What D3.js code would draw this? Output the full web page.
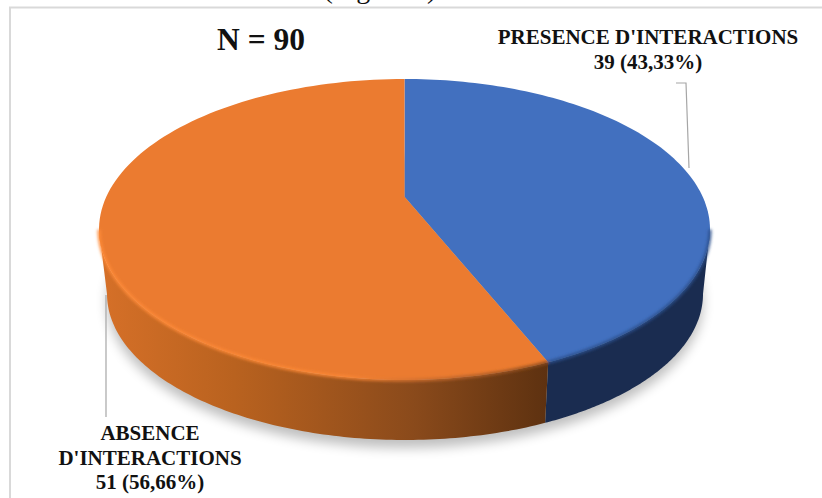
<!DOCTYPE html>
<html>
<head>
<meta charset="utf-8">
<script src="https://cdn.jsdelivr.net/npm/d3@7"></script>
<style>
html,body{margin:0;padding:0;background:#fff;}
svg{display:block;}
text{font-family:"Liberation Serif",serif;fill:#111;}
</style>
</head>
<body>
<div id="chart"></div>
<script>
const categories = ["PRESENCE D'INTERACTIONS", "ABSENCE D'INTERACTIONS"];
const values = [39, 51];
const topColors = ["#4270bf", "#eb7b30"];
const labelLines = [
  ["PRESENCE D'INTERACTIONS", "39 (43,33%)"],
  ["ABSENCE", "D'INTERACTIONS", "51 (56,66%)"]
];
const totalLabel = "N = 90";
const captionLabel = "(Figure 2)";

const w = 822, h = 498;
const svg = d3.select("#chart").append("svg").attr("width", w).attr("height", h);
const defs = svg.append("defs");

// tilted disc: k shifts the rim angles, apexK puts the apex above the ellipse middle
const k = -0.16, apexK = -0.217;
function project(a) {
  const u = Math.sin(a), v = -Math.cos(a);
  return [u * Math.sqrt(1 - k * k) / (1 + k * v), (v + k) / (1 + k * v)];
}
const xTop = d3.scaleLinear().domain([-1, 1]).range([99, 710]);
const yTop = d3.scaleLinear().domain([-1, 1]).range([79, 380]);
const xBot = d3.scaleLinear().domain([-1, 1]).range([107, 703]);
const yBot = d3.scaleLinear().domain([-1, 1]).range([148, 440]);
const pie = d3.pie().sort(null).value(d => d);
const slices = pie(values);
const line = d3.line();

function rim(s, xs, ys, from, to) {
  const a0 = Math.max(s.startAngle, from), a1 = Math.min(s.endAngle, to);
  return d3.range(0, 121).map(i => {
    const p = project(a0 + (a1 - a0) * i / 120);
    return [xs(p[0]), ys(p[1])];
  });
}

// filters and gradients
const blur = defs.append("filter").attr("id", "shadow")
  .attr("x", "-10%").attr("y", "-10%").attr("width", "120%").attr("height", "120%");
blur.append("feGaussianBlur").attr("stdDeviation", 6);
const soft = defs.append("filter").attr("id", "soft")
  .attr("x", "-5%").attr("y", "-5%").attr("width", "110%").attr("height", "110%");
soft.append("feGaussianBlur").attr("stdDeviation", 1.6);

const gradOrange = defs.append("linearGradient").attr("id", "sideOrange")
  .attr("gradientUnits", "userSpaceOnUse")
  .attr("x1", 99).attr("x2", 549).attr("y1", 0).attr("y2", 0);
gradOrange.append("stop").attr("offset", 0).attr("stop-color", "#d67028");
gradOrange.append("stop").attr("offset", 0.3).attr("stop-color", "#b9621f");
gradOrange.append("stop").attr("offset", 0.7).attr("stop-color", "#8a4a1b");
gradOrange.append("stop").attr("offset", 1).attr("stop-color", "#5d3110");
const sideFill = ["#1a2c50", "url(#sideOrange)"];

const gradBevel = defs.append("linearGradient").attr("id", "bevelOrange")
  .attr("gradientUnits", "userSpaceOnUse")
  .attr("x1", 99).attr("x2", 549).attr("y1", 0).attr("y2", 0);
gradBevel.append("stop").attr("offset", 0).attr("stop-color", "#ff8b38");
gradBevel.append("stop").attr("offset", 0.55).attr("stop-color", "#fb8735");
gradBevel.append("stop").attr("offset", 0.8).attr("stop-color", "#b8622a");
gradBevel.append("stop").attr("offset", 1).attr("stop-color", "#86481a");
const bevelStroke = ["#2c4f8c", "url(#bevelOrange)"];

// frame
svg.append("path").attr("d", "M10," + (h + 2) + "V7.5H" + (w + 2))
  .attr("fill", "none").attr("stroke", "#d9d9d9").attr("stroke-width", 2);

// caption cut by the top of the picture
svg.append("text").attr("x", 380).attr("y", -2).attr("text-anchor", "middle")
  .attr("font-size", 28).text(captionLabel);

// ground shadow
const whole = {startAngle: 0, endAngle: 2 * Math.PI};
svg.append("path").attr("d", line(rim(whole, xBot, d3.scaleLinear().domain(yBot.domain()).range(yBot.range().map(d => d + 8)), 0, 7)) + "Z")
  .attr("fill", "#000").attr("opacity", 0.25).attr("filter", "url(#shadow)");

// side wall, front part only (from the widest point round the bottom)
const frontFrom = Math.acos(k), frontTo = 2 * Math.PI - Math.acos(k);
svg.selectAll("path.side").data(slices).join("path").attr("class", "side")
  .attr("d", s => {
    const a = rim(s, xTop, yTop, frontFrom, frontTo);
    const b = rim(s, xBot, yBot, frontFrom, frontTo).reverse();
    return line(a.concat(b)) + "Z";
  })
  .attr("fill", (s, i) => sideFill[i]);

// top face
const apex = [xTop(0), yTop(apexK)];
svg.selectAll("path.top").data(slices).join("path").attr("class", "top")
  .attr("d", s => line([apex].concat(rim(s, xTop, yTop, 0, 7))) + "Z")
  .attr("fill", (s, i) => topColors[i]);

// bevel along the front edge of the top face
const bevel = svg.append("g").attr("filter", "url(#soft)");
bevel.selectAll("path").data(slices).join("path")
  .attr("d", s => line(rim(s, xTop, yTop, frontFrom, frontTo)))
  .attr("fill", "none")
  .attr("stroke", (s, i) => bevelStroke[i])
  .attr("stroke-width", 3);

// leader lines
const leaders = svg.append("g").attr("fill", "none").attr("stroke", "#a6a6a6").attr("stroke-width", 1.2);
leaders.append("path").attr("d", "M676,83H686L689,168");
leaders.append("path").attr("d", "M106,295V417");

// labels
svg.append("text").attr("x", 261).attr("y", 50).attr("text-anchor", "middle")
  .attr("font-size", 31.5).attr("font-weight", "bold").text(totalLabel);

const labelPos = [{x: 648, y: 44}, {x: 150, y: 440}];
labelLines.forEach((lines, i) => {
  const t = svg.append("text").attr("text-anchor", "middle")
    .attr("font-size", 21).attr("font-weight", "bold");
  lines.forEach((l, j) => {
    t.append("tspan").attr("x", labelPos[i].x).attr("y", labelPos[i].y + j * 24.5).text(l);
  });
});
</script>
</body>
</html>
